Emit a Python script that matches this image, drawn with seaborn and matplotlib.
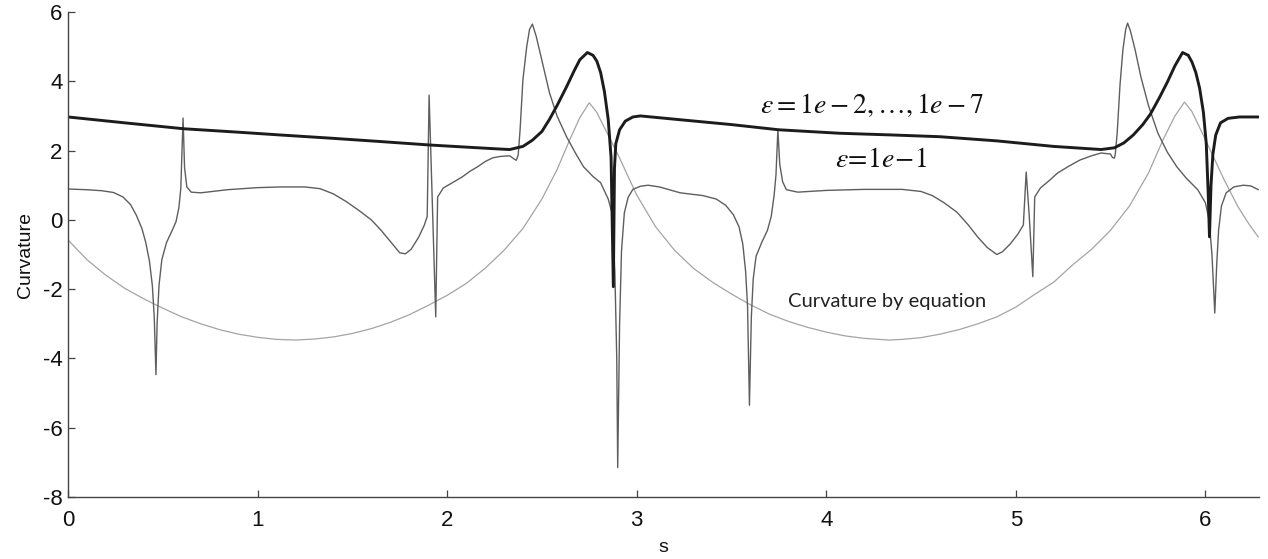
import matplotlib
matplotlib.use("Agg")
import matplotlib.pyplot as plt
import seaborn as sns

# Arc-length parameter and curvature for eps = 1e-2 ... 1e-7 (curves coincide)
s_fine = [0.00, 0.30, 0.61, 0.90, 1.12, 1.38, 1.65, 1.91, 2.10, 2.26, 2.33, 2.40,
          2.45, 2.50, 2.54, 2.58, 2.63, 2.67, 2.70, 2.74, 2.77, 2.79, 2.81, 2.83,
          2.85, 2.865, 2.877, 2.883, 2.89, 2.91, 2.94, 2.98, 3.02, 3.23, 3.50,
          3.75, 4.07, 4.35, 4.60, 4.90, 5.20, 5.45, 5.52, 5.57, 5.62, 5.67, 5.71,
          5.76, 5.80, 5.84, 5.88, 5.91, 5.93, 5.95, 5.97, 5.99, 6.005, 6.015,
          6.022, 6.03, 6.04, 6.055, 6.08, 6.12, 6.18, 6.28]
k_fine = [2.97, 2.80, 2.63, 2.53, 2.45, 2.36, 2.26, 2.16, 2.10, 2.05, 2.03, 2.12,
          2.30, 2.55, 2.90, 3.30, 3.84, 4.30, 4.62, 4.83, 4.75, 4.58, 4.25, 3.70,
          2.90, 1.80, -1.93, 1.50, 2.20, 2.60, 2.85, 2.97, 3.00, 2.89, 2.75,
          2.60, 2.50, 2.45, 2.40, 2.28, 2.12, 2.03, 2.08, 2.22, 2.45, 2.75, 3.05,
          3.55, 3.98, 4.45, 4.83, 4.75, 4.55, 4.25, 3.80, 3.10, 2.20, 0.80,
          -0.49, 1.00, 1.90, 2.45, 2.80, 2.93, 2.97, 2.97]

# Curvature for eps = 1e-1
s_coarse = [0.00, 0.10, 0.18, 0.24, 0.29, 0.33, 0.36, 0.39, 0.41, 0.43, 0.445,
            0.455, 0.464, 0.47, 0.48, 0.495, 0.52, 0.55, 0.57, 0.585, 0.595,
            0.607, 0.615, 0.627, 0.65, 0.70, 0.84, 1.00, 1.12, 1.25, 1.33, 1.40,
            1.47, 1.54, 1.60, 1.65, 1.70, 1.75, 1.78, 1.81, 1.85, 1.88, 1.895,
            1.905, 1.94, 1.95, 1.98, 2.03, 2.08, 2.12, 2.16, 2.20, 2.24, 2.28,
            2.33, 2.355, 2.365, 2.375, 2.385, 2.40, 2.42, 2.435, 2.45, 2.47, 2.50,
            2.54, 2.58, 2.63, 2.68, 2.72, 2.77, 2.81, 2.85, 2.87, 2.885, 2.895,
            2.90, 2.91, 2.92, 2.935, 2.955, 2.98, 3.02, 3.06, 3.12, 3.23, 3.35,
            3.42, 3.47, 3.51, 3.54, 3.56, 3.575, 3.585, 3.595, 3.605, 3.615, 3.63,
            3.66, 3.69, 3.71, 3.725, 3.735, 3.745, 3.755, 3.77, 3.79, 3.85, 4.00,
            4.20, 4.40, 4.50, 4.56, 4.62, 4.69, 4.75, 4.80, 4.85, 4.90, 4.93,
            4.97, 5.01, 5.04, 5.055, 5.07, 5.09, 5.10, 5.13, 5.18, 5.22, 5.28,
            5.34, 5.40, 5.45, 5.50, 5.51, 5.52, 5.525, 5.535, 5.55, 5.565, 5.58,
            5.59, 5.605, 5.63, 5.66, 5.70, 5.75, 5.80, 5.85, 5.90, 5.96, 6.00,
            6.02, 6.035, 6.05, 6.06, 6.07, 6.085, 6.11, 6.15, 6.20, 6.24, 6.28]
k_coarse = [0.89, 0.87, 0.84, 0.79, 0.66, 0.44, 0.14, -0.25, -0.65, -1.20, -1.90,
            -2.80, -4.47, -3.00, -1.90, -1.15, -0.65, -0.30, -0.05, 0.35, 0.90,
            2.94, 1.50, 0.95, 0.80, 0.78, 0.87, 0.93, 0.95, 0.95, 0.90, 0.75,
            0.52, 0.25, 0.00, -0.29, -0.62, -0.95, -0.98, -0.85, -0.50, -0.15, 0.10,
            3.60, -2.80, 0.66, 0.92, 1.08, 1.24, 1.40, 1.53, 1.68, 1.79, 1.83,
            1.85, 1.75, 1.72, 1.87, 2.60, 4.05, 5.00, 5.50, 5.65, 5.30, 4.60,
            3.67, 3.00, 2.40, 1.90, 1.53, 1.25, 1.07, 0.60, 0.20, -1.50, -4.00,
            -7.15, -3.00, -0.90, 0.20, 0.65, 0.88, 0.97, 1.00, 0.95, 0.78, 0.70,
            0.60, 0.42, 0.15, -0.20, -0.70, -1.50, -2.50, -5.35, -2.80, -1.70, -1.05,
            -0.65, -0.30, 0.10, 0.70, 1.30, 2.60, 1.60, 1.10, 0.87, 0.80, 0.85,
            0.88, 0.88, 0.82, 0.70, 0.50, 0.22, -0.15, -0.50, -0.80, -1.00, -0.92,
            -0.70, -0.42, -0.15, 1.38, 0.20, -1.64, 0.66, 0.92, 1.15, 1.35, 1.55,
            1.73, 1.85, 1.93, 1.90, 1.80, 1.78, 1.90, 2.50, 3.90, 4.90, 5.50,
            5.68, 5.45, 4.90, 4.13, 3.30, 2.50, 1.95, 1.53, 1.20, 0.87, 0.50,
            0.00, -1.00, -2.69, -1.30, -0.30, 0.40, 0.78, 0.95, 1.00, 0.98, 0.87]

# Analytical curvature
s_exact = [0.00, 0.10, 0.20, 0.30, 0.40, 0.50, 0.60, 0.70, 0.80, 0.90, 1.00, 1.10,
           1.20, 1.30, 1.40, 1.50, 1.60, 1.70, 1.80, 1.90, 2.00, 2.10, 2.20, 2.30,
           2.40, 2.50, 2.58, 2.65, 2.70, 2.75, 2.79, 2.84, 2.90, 3.00, 3.10, 3.20,
           3.30, 3.40, 3.50, 3.60, 3.70, 3.80, 3.90, 4.00, 4.10, 4.20, 4.33, 4.40,
           4.50, 4.60, 4.70, 4.80, 4.90, 5.00, 5.10, 5.20, 5.30, 5.40, 5.50, 5.60,
           5.70, 5.78, 5.84, 5.89, 5.93, 5.98, 6.04, 6.10, 6.17, 6.23, 6.28]
k_exact = [-0.58, -1.15, -1.60, -1.98, -2.28, -2.55, -2.80, -3.00, -3.17, -3.30,
           -3.39, -3.45, -3.47, -3.44, -3.38, -3.28, -3.14, -2.96, -2.74, -2.47,
           -2.18, -1.84, -1.40, -0.88, -0.25, 0.60, 1.45, 2.35, 2.95, 3.38, 3.10,
           2.55, 1.90, 0.72, -0.20, -0.88, -1.40, -1.80, -2.14, -2.45, -2.72,
           -2.93, -3.10, -3.24, -3.35, -3.42, -3.47, -3.45, -3.40, -3.30, -3.17,
           -3.00, -2.80, -2.52, -2.15, -1.80, -1.30, -0.85, -0.30, 0.40, 1.35,
           2.35, 3.00, 3.40, 3.12, 2.55, 1.85, 1.15, 0.40, -0.12, -0.50]

x_ticks = [0, 1, 2, 3, 4, 5, 6]
y_ticks = [-8, -6, -4, -2, 0, 2, 4, 6]

sns.set_style("ticks")
plt.rcParams["font.family"] = ["Liberation Sans", "DejaVu Sans"]
plt.rcParams["mathtext.fontset"] = "stix"

fig = plt.figure(figsize=(12.68, 5.59), dpi=100)
ax = fig.add_axes([68 / 1268, 62 / 559, (1259 - 68) / 1268, (497 - 12) / 559])

sns.lineplot(x=s_exact, y=k_exact, ax=ax, estimator=None, sort=False,
             color="#a4a4a4", linewidth=0.9)
sns.lineplot(x=s_coarse, y=k_coarse, ax=ax, estimator=None, sort=False,
             color="#5e5e5e", linewidth=1.0)
sns.lineplot(x=s_fine, y=k_fine, ax=ax, estimator=None, sort=False,
             color="#1c1c1c", linewidth=2.1)

ax.set_xlim(0, 6.2832)
ax.set_ylim(-8, 6)
ax.set_xticks(x_ticks)
ax.set_yticks(y_ticks)
ax.set_xticklabels([str(t) for t in x_ticks])
ax.set_yticklabels([str(t) for t in y_ticks])

for side in ("top", "right"):
    ax.spines[side].set_visible(False)
for side in ("left", "bottom"):
    ax.spines[side].set_color("#444444")
    ax.spines[side].set_linewidth(1.0)
ax.tick_params(direction="in", length=5, width=0.9, color="#444444",
               labelsize=16, labelcolor="#111111")
ax.tick_params(axis="x", pad=9)
ax.tick_params(axis="y", pad=4)

ax.set_xlabel("s", fontsize=14, labelpad=6, color="#111111")
ax.set_ylabel("Curvature", fontsize=14, labelpad=6, color="#111111")

ax.text(4.24, 3.31, r"$\varepsilon = 1e - 2,\ldots,1e - 7$", fontsize=20,
        ha="center", va="center", color="#111111")
ax.text(4.29, 1.73, r"$\varepsilon\!=\!1e\!-\!1$", fontsize=20,
        ha="center", va="center", color="#111111")
ax.text(4.32, -2.36, "Curvature by equation", fontsize=14.5, family="Lato",
        ha="center", va="center", color="#222222")

fig.savefig("out.png", dpi=100, facecolor="white")
